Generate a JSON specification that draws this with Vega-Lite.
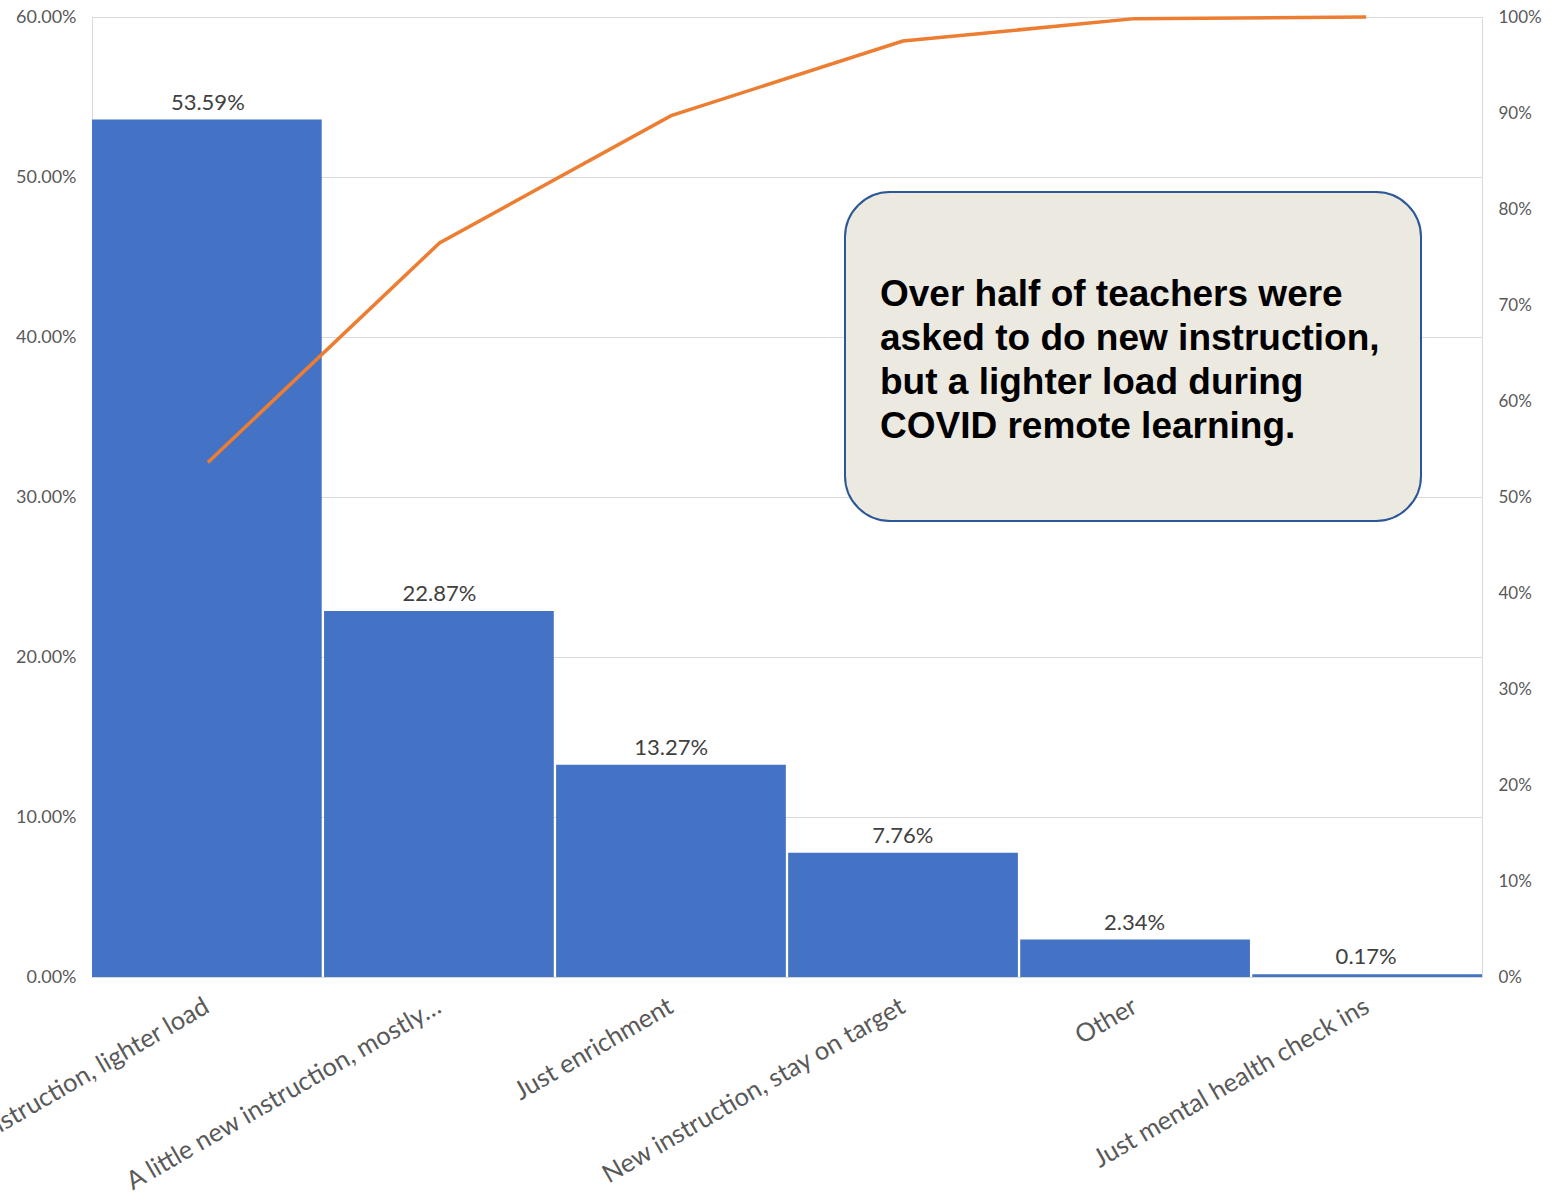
{
  "$schema": "https://vega.github.io/schema/vega-lite/v6.json",
  "width": 1390,
  "height": 960,
  "autosize": "none",
  "padding": {"left": 92, "top": 17, "right": 70, "bottom": 227},
  "background": "white",
  "config": {
    "view": {"stroke": "#d9d9d9", "strokeWidth": 1},
    "axis": {"labelFont": "Lato", "labelColor": "#595959", "domain": false, "ticks": false, "title": null}
  },
  "data": {
    "values": [
      {"category": "New instruction, lighter load", "pct": 0.5359, "cum": 0.5359},
      {"category": "A little new instruction, mostly…", "pct": 0.2287, "cum": 0.7646},
      {"category": "Just enrichment", "pct": 0.1327, "cum": 0.8973},
      {"category": "New instruction, stay on target", "pct": 0.0776, "cum": 0.9749},
      {"category": "Other", "pct": 0.0234, "cum": 0.9983},
      {"category": "Just mental health check ins", "pct": 0.0017, "cum": 1.0}
    ]
  },
  "layer": [
    {
      "mark": {"type": "bar", "color": "#4472C4"},
      "encoding": {
        "x": {
          "field": "category", "type": "nominal", "sort": null,
          "scale": {"paddingInner": 0.01, "paddingOuter": 0},
          "axis": {"labelAngle": -30, "labelAlign": "right", "labelBaseline": "middle", "labelPadding": 27, "labelFontSize": 25.5, "labelLimit": 700, "labelBound": false, "labelOverlap": false}
        },
        "y": {
          "field": "pct", "type": "quantitative",
          "scale": {"domain": [0, 0.6], "nice": false},
          "axis": {"orient": "left", "format": ".2%", "values": [0, 0.1, 0.2, 0.3, 0.4, 0.5, 0.6], "labelFontSize": 18, "labelPadding": 16, "grid": true, "gridColor": "#d9d9d9"}
        }
      }
    },
    {
      "mark": {"type": "text", "baseline": "bottom", "dy": -5, "font": "Lato", "fontSize": 22, "color": "#404040"},
      "encoding": {
        "x": {"field": "category", "type": "nominal", "sort": null, "scale": {"paddingInner": 0.01, "paddingOuter": 0}, "axis": null},
        "y": {"field": "pct", "type": "quantitative", "scale": {"domain": [0, 0.6], "nice": false}, "axis": null},
        "text": {"field": "pct", "type": "quantitative", "format": ".2%"}
      }
    },
    {
      "mark": {"type": "line", "color": "#ED7D31", "strokeWidth": 3.5},
      "encoding": {
        "x": {"field": "category", "type": "nominal", "sort": null, "scale": {"type": "point", "padding": 0.5}, "axis": null},
        "y": {
          "field": "cum", "type": "quantitative",
          "scale": {"domain": [0, 1], "nice": false},
          "axis": {"orient": "right", "format": ".0%", "values": [0, 0.1, 0.2, 0.3, 0.4, 0.5, 0.6, 0.7, 0.8, 0.9, 1.0], "labelFontSize": 17, "labelPadding": 16, "grid": false}
        }
      }
    },
    {
      "data": {"values": [{}]},
      "mark": {"type": "rect", "fill": "#ECE9E0", "stroke": "#2B5797", "strokeWidth": 2, "cornerRadius": 45},
      "encoding": {
        "x": {"datum": 3.2504, "type": "quantitative", "scale": {"domain": [0, 6], "nice": false}, "axis": null},
        "x2": {"datum": 5.7367},
        "y": {"datum": 0.490625, "type": "quantitative", "scale": {"domain": [0, 0.6], "nice": false}, "axis": null},
        "y2": {"datum": 0.285}
      }
    },
    {
      "data": {"values": [{}]},
      "mark": {
        "type": "text", "align": "left", "baseline": "alphabetic",
        "font": "Liberation Sans", "fontWeight": "bold", "fontSize": 37, "lineHeight": 44, "color": "#000000",
        "text": ["Over half of teachers were", "asked to do new instruction,", "but a lighter load during", "COVID remote learning."]
      },
      "encoding": {
        "x": {"datum": 3.4014, "type": "quantitative", "scale": {"domain": [0, 6], "nice": false}, "axis": null},
        "y": {"datum": 0.4194, "type": "quantitative", "scale": {"domain": [0, 0.6], "nice": false}, "axis": null}
      }
    }
  ],
  "resolve": {"scale": {"x": "independent", "y": "independent"}}
}
